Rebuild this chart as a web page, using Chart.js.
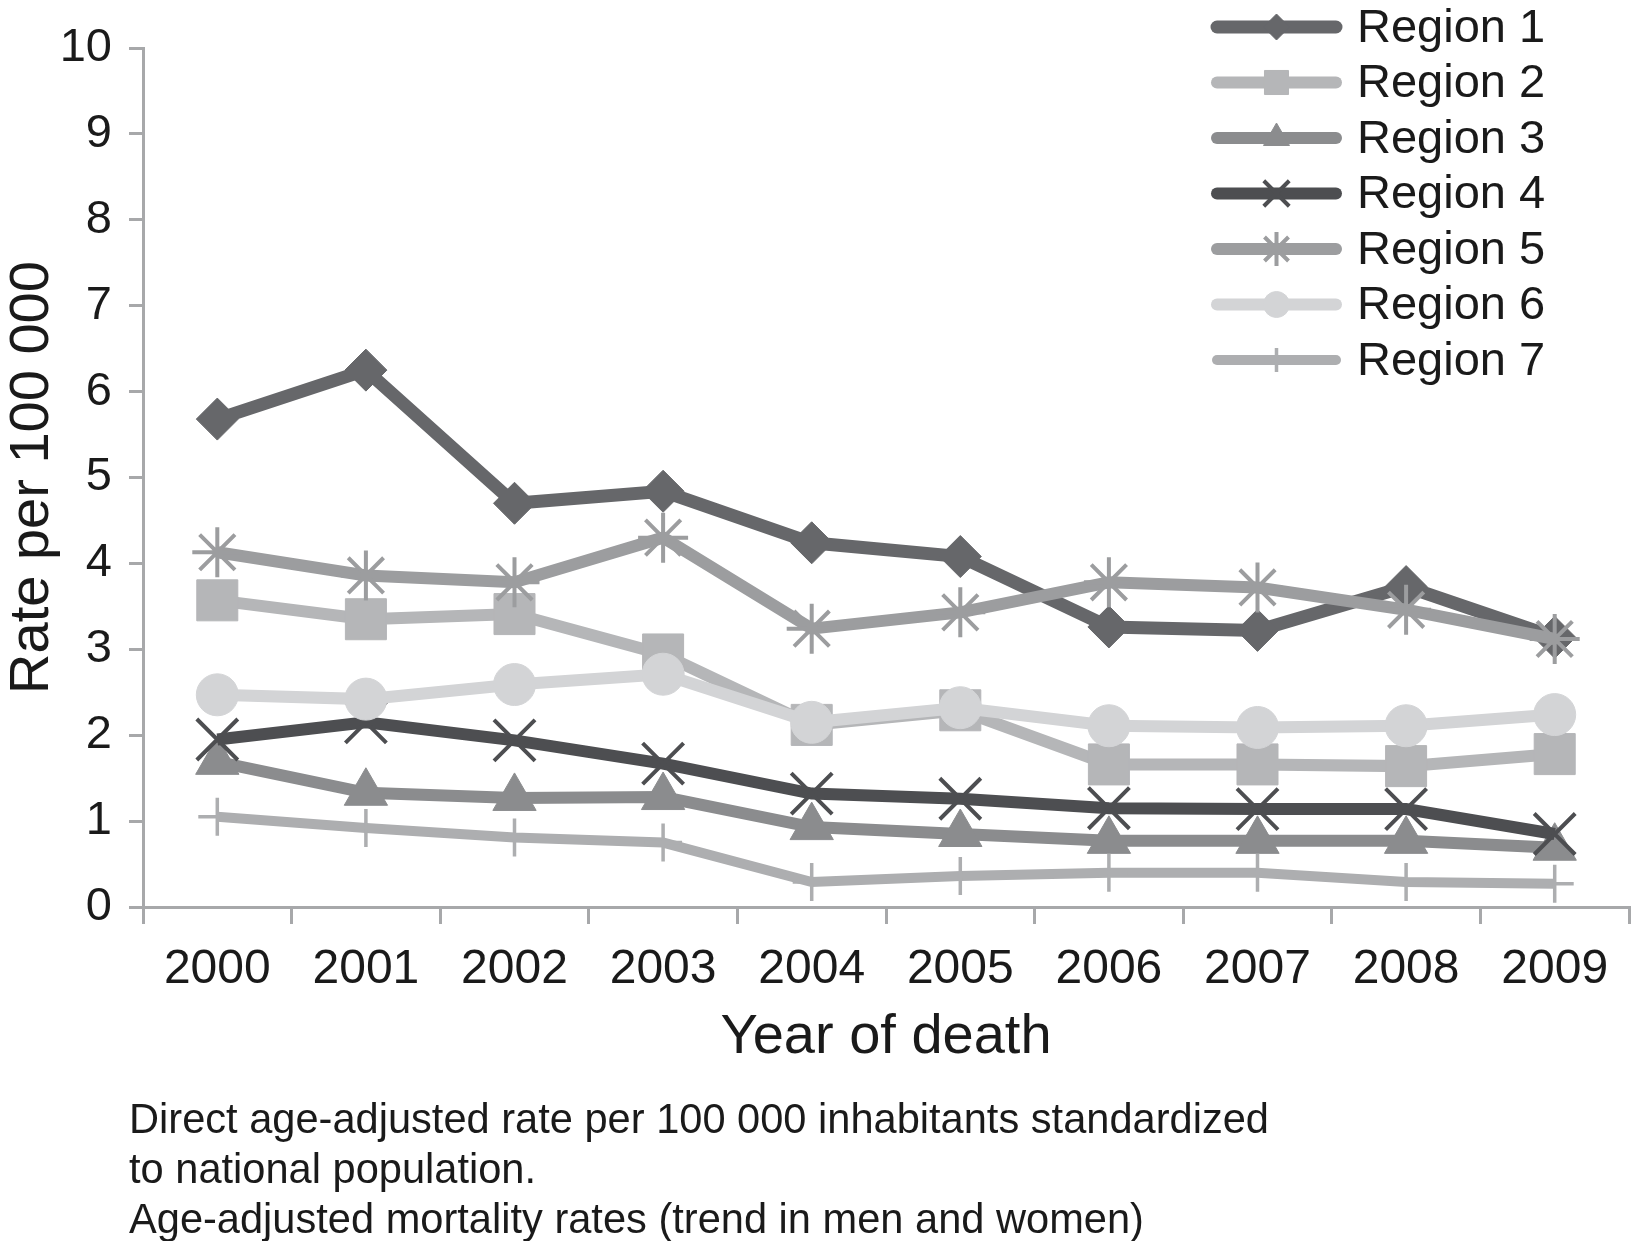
<!DOCTYPE html>
<html>
<head>
<meta charset="utf-8">
<script src="https://cdn.jsdelivr.net/npm/chart.js"></script>
<style>
  body { margin: 0; background: #fff; }
  #wrap { position: relative; width: 1631px; height: 1241px; }
  #note {
    position: absolute; left: 129px; top: 1094px;
    font-family: "Liberation Sans", Arial, sans-serif; font-size: 41.6px;
    line-height: 50px; color: #1a1a1a; white-space: nowrap;
  }
</style>
</head>
<body>
<div id="wrap">
  <canvas id="chart" width="1631" height="1241"></canvas>
  <div id="note">Direct age-adjusted rate per 100 000 inhabitants standardized<br>to national population.<br>Age-adjusted mortality rates (trend in men and women)</div>
</div>
<script>
// --- DATA ---
const years = ['2000', '2001', '2002', '2003', '2004', '2005', '2006', '2007', '2008', '2009'];
const regionNames = ['Region 1', 'Region 2', 'Region 3', 'Region 4', 'Region 5', 'Region 6', 'Region 7'];

const region1 = [5.68, 6.25, 4.70, 4.84, 4.24, 4.08, 3.26, 3.22, 3.73, 3.14];
const region2 = [3.57, 3.35, 3.41, 2.94, 2.12, 2.29, 1.66, 1.66, 1.64, 1.78];
const region3 = [1.69, 1.33, 1.27, 1.28, 0.93, 0.85, 0.77, 0.77, 0.77, 0.69];
const region4 = [1.95, 2.15, 1.94, 1.67, 1.32, 1.26, 1.15, 1.14, 1.14, 0.85];
const region5 = [4.13, 3.86, 3.78, 4.30, 3.24, 3.43, 3.78, 3.72, 3.46, 3.12];
const region6 = [2.47, 2.42, 2.59, 2.71, 2.15, 2.32, 2.11, 2.09, 2.11, 2.24];
const region7 = [1.05, 0.92, 0.81, 0.75, 0.29, 0.36, 0.40, 0.40, 0.29, 0.27];

const yTicks = [0, 1, 2, 3, 4, 5, 6, 7, 8, 9, 10];

// --- STYLES ---
const FONT = '"Liberation Sans", Arial, sans-serif';
const textColor = '#1a1a1a';
const axisColor = '#a7a8aa';

const series = [region1, region2, region3, region4, region5, region6, region7];
const styles = [
  { color: '#66676a', marker: 'rectRot',  radius: 21, legendRadius: 13, width: 13, stroke: 1 },
  { color: '#b5b6b8', marker: 'rect',     radius: 29, legendRadius: 17, width: 12, stroke: 1 },
  { color: '#8b8c8e', marker: 'triangle', radius: 25, legendRadius: 15, width: 12, stroke: 1 },
  { color: '#4d4e51', marker: 'crossRot', radius: 29, legendRadius: 18, width: 12, stroke: 4 },
  { color: '#9c9d9f', marker: 'star',     radius: 25, legendRadius: 17, width: 12, stroke: 4 },
  { color: '#d3d4d6', marker: 'circle',   radius: 21, legendRadius: 13, width: 12, stroke: 1 },
  { color: '#adaeb0', marker: 'cross',    radius: 19, legendRadius: 12, width: 10, stroke: 3.5 },
];

const datasets = series.map((values, i) => ({
  label: regionNames[i],
  data: values,
  borderColor: styles[i].color,
  backgroundColor: styles[i].color,
  borderWidth: styles[i].width,
  pointStyle: styles[i].marker,
  pointRadius: styles[i].radius,
  pointHoverRadius: styles[i].radius,
  pointBorderWidth: styles[i].stroke,
  pointBackgroundColor: styles[i].color,
  pointBorderColor: styles[i].color,
  tension: 0,
  clip: false,
  order: series.length - 1 - i, // later regions drawn on top
}));

// Legend drawn in the top right corner, like the original figure
const cornerLegend = {
  id: 'cornerLegend',
  afterDraw(chart, args, opts) {
    const ctx = chart.ctx;
    ctx.save();
    chart.data.datasets.forEach((ds, i) => {
      const y = opts.top + i * opts.step;
      ctx.beginPath();
      ctx.strokeStyle = ds.borderColor;
      ctx.lineWidth = ds.borderWidth;
      ctx.lineCap = 'round';
      ctx.moveTo(opts.lineStart, y);
      ctx.lineTo(opts.lineEnd, y);
      ctx.stroke();
      ctx.fillStyle = ds.borderColor;
      ctx.strokeStyle = ds.borderColor;
      ctx.lineWidth = ds.pointBorderWidth;
      ctx.lineCap = 'butt';
      Chart.helpers.drawPoint(ctx, {
        pointStyle: ds.pointStyle,
        radius: styles[i].legendRadius,
        borderWidth: ds.pointBorderWidth,
        rotation: 0,
      }, (opts.lineStart + opts.lineEnd) / 2, y);
      ctx.fillStyle = textColor;
      ctx.font = `47px ${FONT}`;
      ctx.textBaseline = 'middle';
      ctx.textAlign = 'left';
      ctx.fillText(ds.label, opts.textX, y + 2);
    });
    ctx.restore();
  }
};

new Chart(document.getElementById('chart').getContext('2d'), {
  type: 'line',
  data: { labels: years, datasets },
  plugins: [cornerLegend],
  options: {
    responsive: false,
    devicePixelRatio: 1,
    animation: false,
    layout: { autoPadding: false, padding: { left: 0, right: 2, top: 48, bottom: 174 } },
    plugins: {
      legend: { display: false },
      tooltip: { enabled: false },
      cornerLegend: { top: 27, step: 55.5, lineStart: 1217, lineEnd: 1336, textX: 1357 },
    },
    scales: {
      x: {
        offset: true,
        grid: { offset: true, drawOnChartArea: false, drawTicks: true, tickLength: 17, color: axisColor, lineWidth: 3 },
        border: { color: axisColor, width: 3 },
        ticks: { color: textColor, padding: 17, font: { family: FONT, size: 48 }, maxRotation: 0, autoSkip: false },
        title: { display: true, text: 'Year of death', color: textColor, font: { family: FONT, size: 56, lineHeight: 1 }, padding: { top: 0, bottom: 1 } },
        afterFit(scale) {
          scale.height = 160;
          scale.paddingLeft = 0;
          scale.paddingRight = 0;
        },
      },
      y: {
        min: 0,
        max: 10,
        afterBuildTicks(scale) { scale.ticks = yTicks.map(v => ({ value: v })); },
        grid: { drawOnChartArea: false, drawTicks: true, tickLength: 14, color: axisColor, lineWidth: 3 },
        border: { color: axisColor, width: 3 },
        ticks: { color: textColor, padding: 17, font: { family: FONT, size: 47 } },
        title: { display: true, text: 'Rate per 100 000', color: textColor, font: { family: FONT, size: 56, lineHeight: 1 }, padding: { top: 5, bottom: 0 } },
        afterFit(scale) { scale.width = 143; },
      },
    },
  },
});
</script>
</body>
</html>
